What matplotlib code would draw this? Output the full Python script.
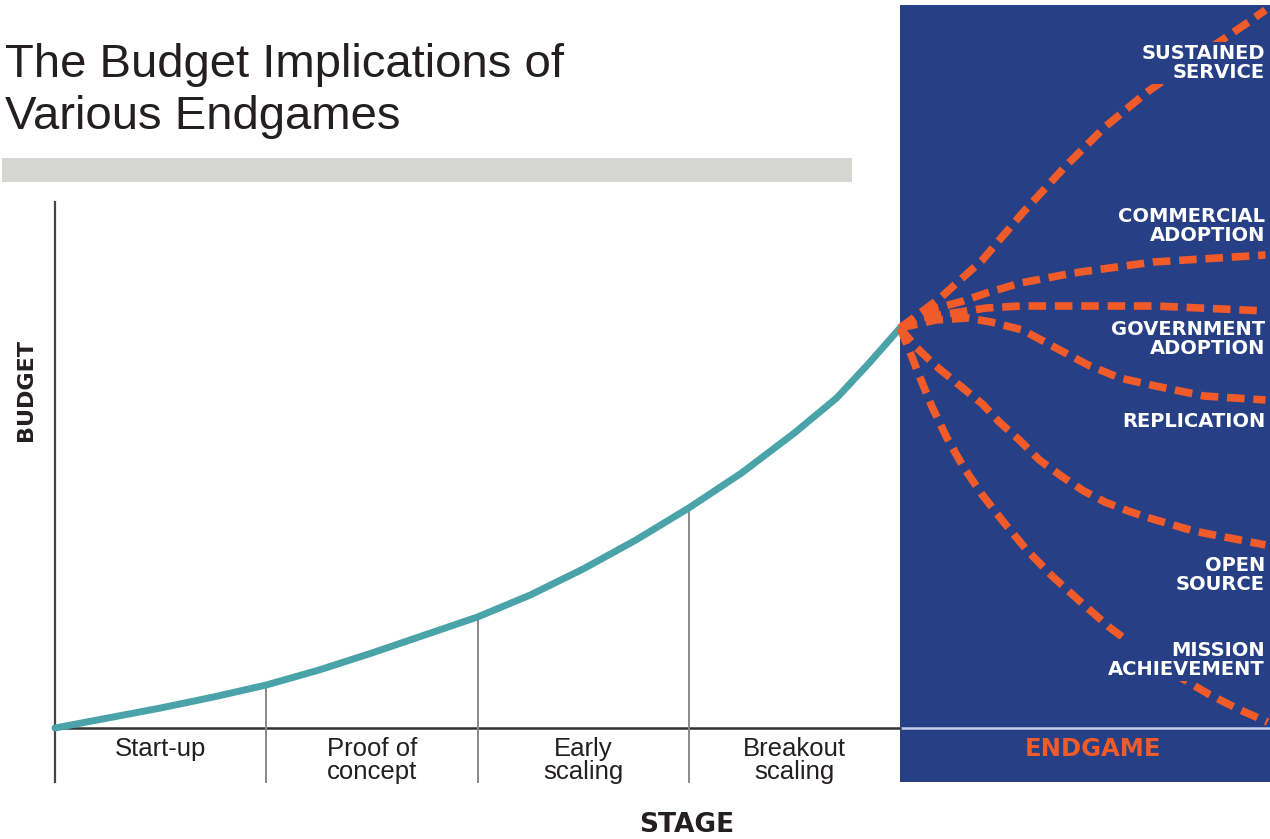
import matplotlib
matplotlib.use("Agg")
from matplotlib import pyplot as plt
from matplotlib.patches import Rectangle

# stages along the x axis (one unit per stage), budget on y
stage_names = ["Start-up", "Proof of\nconcept", "Early\nscaling", "Breakout\nscaling"]
stage_edges = [0, 1, 2, 3, 4]

budget_x = [0, 0.25, 0.5, 0.75, 1, 1.25, 1.5, 1.75, 2, 2.25, 2.5, 2.75, 3, 3.25, 3.5, 3.7, 3.85, 4]
budget_y = [0, 0.10, 0.20, 0.31, 0.43, 0.58, 0.75, 0.93, 1.11, 1.33, 1.59, 1.88, 2.20, 2.55, 2.95, 3.30, 3.64, 4.0]

# endgame paths, all leaving from the end of the budget curve
sustained_x = [4.0, 4.19, 4.39, 4.58, 4.78, 4.97, 5.17, 5.42, 5.65, 5.73]
sustained_y = [4.0, 4.30, 4.68, 5.15, 5.61, 6.01, 6.36, 6.73, 7.06, 7.18]

commercial_x = [4.0, 4.14, 4.30, 4.41, 4.57, 4.82, 5.20, 5.73]
commercial_y = [4.0, 4.18, 4.27, 4.35, 4.45, 4.55, 4.66, 4.73]

government_x = [4.0, 4.09, 4.22, 4.41, 4.57, 4.95, 5.21, 5.42, 5.73]
government_y = [4.0, 4.10, 4.14, 4.20, 4.22, 4.22, 4.22, 4.20, 4.17]

replication_x = [4.0, 4.17, 4.32, 4.43, 4.58, 4.73, 4.89, 5.04, 5.21, 5.44, 5.73]
replication_y = [4.0, 4.08, 4.10, 4.06, 3.98, 3.81, 3.63, 3.50, 3.42, 3.32, 3.28]

open_x = [4.0, 4.08, 4.17, 4.28, 4.39, 4.47, 4.57, 4.66, 4.77, 4.87, 4.97, 5.08, 5.18, 5.39, 5.61, 5.73]
open_y = [4.0, 3.80, 3.62, 3.43, 3.24, 3.06, 2.87, 2.68, 2.51, 2.37, 2.26, 2.17, 2.10, 1.97, 1.88, 1.83]

mission_x = [4.0, 4.04, 4.09, 4.15, 4.22, 4.30, 4.39, 4.49, 4.60, 4.72, 4.85, 4.99, 5.14, 5.30, 5.46, 5.60, 5.74]
mission_y = [4.0, 3.80, 3.53, 3.22, 2.91, 2.61, 2.33, 2.06, 1.78, 1.52, 1.27, 1.01, 0.77, 0.54, 0.34, 0.19, 0.06]

endgame_names = ["SUSTAINED\nSERVICE", "COMMERCIAL\nADOPTION", "GOVERNMENT\nADOPTION",
                 "REPLICATION", "OPEN\nSOURCE", "MISSION\nACHIEVEMENT"]
endgame_label_y = [6.65, 5.02, 3.89, 3.065, 1.53, 0.68]

NAVY = "#263f85"
ORANGE = "#f15a29"
TEAL = "#4aa3a8"
DARK = "#231f20"

fig = plt.figure(figsize=(12.7, 8.39), dpi=100)
ax = fig.add_axes([0, 0, 1, 1])
ax.set_xlim(-0.2604, 5.7515)
ax.set_ylim(-1.11, 7.28)
ax.axis("off")

# title + grey rule
ax.text(0.004, 1 - 77 / 839, "The Budget Implications of", transform=ax.transAxes,
        family=["Liberation Sans", "DejaVu Sans"], fontsize=34, color=DARK, va="baseline")
ax.text(0.004, 1 - 129 / 839, "Various Endgames", transform=ax.transAxes,
        family=["Liberation Sans", "DejaVu Sans"], fontsize=34, color=DARK, va="baseline")
ax.add_patch(Rectangle((2 / 1270, 1 - 182 / 839), 850 / 1270, 24 / 839,
                       transform=ax.transAxes, facecolor="#d5d6d1", edgecolor="none"))

# endgame panel
ax.add_patch(Rectangle((4, -0.54), 1.8, 7.77, facecolor=NAVY, edgecolor="none", zorder=1))
ax.plot([4, 5.8], [0, 0], color="#c3d0ee", lw=1.8, zorder=2)

# axes lines and stage dividers
ax.plot([0, 0], [-0.54, 5.26], color="#444444", lw=1.6, zorder=2)
ax.plot([0, 4], [0, 0], color="#333333", lw=1.8, zorder=2)
for e in stage_edges[1:4]:
    ax.plot([e, e], [-0.54, budget_y[budget_x.index(e)]], color="#8a8a8a", lw=1.4, zorder=2)

ax.plot(budget_x, budget_y, color=TEAL, lw=5, solid_capstyle="round",
        solid_joinstyle="round", zorder=3)

for xs, ys in [(sustained_x, sustained_y), (commercial_x, commercial_y),
               (government_x, government_y), (replication_x, replication_y),
               (open_x, open_y), (mission_x, mission_y)]:
    ax.plot(xs, ys, color=ORANGE, lw=5.5, dashes=(2.3, 1.15), dash_capstyle="butt",
            dash_joinstyle="round", zorder=4)

for name, y in zip(endgame_names, endgame_label_y):
    ax.text(5.728, y, name, ha="right", va="center", multialignment="right",
            color="white", fontsize=14, fontweight="bold", linespacing=0.98, zorder=6,
            bbox=dict(facecolor=NAVY, edgecolor="none", pad=1.5))

ax.text(4.914, -0.21, "ENDGAME", ha="center", va="center", color=ORANGE,
        fontsize=17.5, fontweight="bold", zorder=6)

# stage labels
for i, name in enumerate(stage_names):
    ax.text(i + 0.5, -0.09, name, ha="center", va="top", multialignment="center",
            family=["Liberation Sans", "DejaVu Sans"], fontsize=18.5, color=DARK,
            linespacing=0.95)

ax.text(2.99, -0.97, "STAGE", ha="center", va="center", fontsize=19,
        fontweight="bold", color=DARK)
ax.text(-0.137, 3.38, "BUDGET", ha="center", va="center", rotation=90, fontsize=16,
        fontweight="bold", color=DARK)

plt.savefig("out.png", dpi=100)
